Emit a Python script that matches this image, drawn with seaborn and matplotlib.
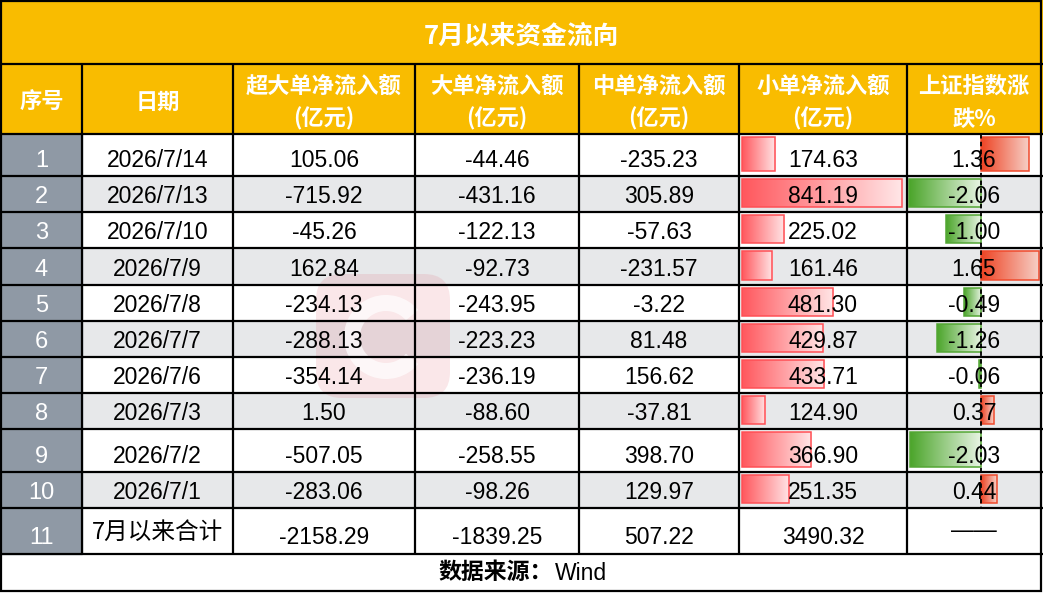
import numpy as np
import matplotlib
matplotlib.use('Agg')
import matplotlib.pyplot as plt
from matplotlib.patches import Rectangle, FancyBboxPatch, Wedge
from matplotlib.colors import to_rgba
import seaborn as sns

title = '7月以来资金流向'
head_top = ['序号', '日期', '超大单净流入额', '大单净流入额', '中单净流入额', '小单净流入额', '上证指数涨']
head_bot = ['', '', '(亿元)', '(亿元)', '(亿元)', '(亿元)', '跌%']
row_no = [str(i) for i in range(1, 12)]
dates = ['2026/7/14', '2026/7/13', '2026/7/10', '2026/7/9', '2026/7/8',
         '2026/7/7', '2026/7/6', '2026/7/3', '2026/7/2', '2026/7/1']
super_large = [105.06, -715.92, -45.26, 162.84, -234.13, -288.13, -354.14, 1.50, -507.05, -283.06]
large = [-44.46, -431.16, -122.13, -92.73, -243.95, -223.23, -236.19, -88.60, -258.55, -98.26]
medium = [-235.23, 305.89, -57.63, -231.57, -3.22, 81.48, 156.62, -37.81, 398.70, 129.97]
small = [174.63, 841.19, 225.02, 161.46, 481.30, 429.87, 433.71, 124.90, 366.90, 251.35]
index_chg = [1.36, -2.06, -1.00, 1.65, -0.49, -1.26, -0.06, 0.37, -2.03, 0.44]
total_label = '7月以来合计'
totals = [-2158.29, -1839.25, 507.22, 3490.32]
total_chg = '——'
source = '数据来源：'
source_name = 'Wind'

# ---- style ----
sns.set_theme(style='white')
plt.rcParams['font.family'] = ['Liberation Sans', 'Noto Sans CJK SC', 'DejaVu Sans']
CJK = ['Noto Sans CJK SC', 'DejaVu Sans']

YELLOW = '#F9BC00'
SLATE = '#8F99A5'
STRIPE = '#E7E8EA'

W, H = 1043, 593
fig = plt.figure(figsize=(W / 100, H / 100), dpi=100)
ax = fig.add_axes([0, 0, 1, 1])

# layout (pixels)
col_x = [1, 82, 233, 415, 579, 739, 907, 1041]
title_y = (1, 64)
head_y = (64, 134)
row_y = [134, 176, 212, 248, 285, 321, 357, 393, 429, 472, 508, 554]
foot_y = (554, 591)
LW = 1.6

# backgrounds
ax.add_patch(Rectangle((0, 0), W, head_y[1], color=YELLOW, zorder=0))
for i in range(11):
    y0, y1 = row_y[i], row_y[i + 1]
    bg = STRIPE if i % 2 == 1 else 'white'
    ax.add_patch(Rectangle((col_x[1], y0), col_x[-1] - col_x[1], y1 - y0, color=bg, zorder=0))
    ax.add_patch(Rectangle((col_x[0], y0), col_x[1] - col_x[0], y1 - y0, color=SLATE, zorder=0))

# faint logo watermark
ax.add_patch(FancyBboxPatch((316, 274), 134, 124, boxstyle='round,pad=0,rounding_size=26',
                            color='#E06070', alpha=0.15, lw=0, zorder=1))
ax.add_patch(Wedge((386, 337), 42, 40, 320, width=16, color='white', alpha=0.7, lw=0, zorder=1))

# gradient filled bars
def fill_gradient(patch, c_from, c_to):
    x0, y0 = patch.get_x(), patch.get_y()
    x1, y1 = x0 + patch.get_width(), y0 + patch.get_height()
    a, b = np.array(to_rgba(c_from)), np.array(to_rgba(c_to))
    t = np.linspace(0, 1, 256)[None, :, None]
    grad = a + (b - a) * t
    im = ax.imshow(grad, extent=(x0, x1, y1, y0), aspect='auto', interpolation='bilinear', zorder=2)
    im.set_clip_path(patch)
    patch.set_facecolor('none')


bar_top = np.array(row_y[:10]) + 3
bar_h = np.diff(row_y[:11]) - 8
bar_c = bar_top + bar_h / 2

# small order column
s_left = col_x[5] + 2.5
s_scale = (col_x[6] - col_x[5] - 8) / max(small)
bars = ax.barh(bar_c, np.array(small) * s_scale, left=s_left, height=bar_h,
               edgecolor='#FF4F55', linewidth=1.1, zorder=3)
for p in bars.patches:
    fill_gradient(p, '#FF575D', '#FFE6E7')

# index change column
chg = np.array(index_chg)
inner = col_x[7] - col_x[6] - 4
c_scale = inner / (chg.max() - chg.min())
axis_x = col_x[6] + 2 + (-chg.min()) * c_scale
bars = ax.barh(bar_c, chg * c_scale, left=axis_x, height=bar_h, linewidth=1.1, zorder=3)
for p, v in zip(bars.patches, chg):
    if v >= 0:
        p.set_edgecolor('#F04A2C')
        fill_gradient(p, '#EE4323', '#F6CFC6')
    else:
        p.set_edgecolor('#53A634')
        fill_gradient(p, '#EAF5E6', '#4BA52A')
ax.plot([axis_x, axis_x], [row_y[0], row_y[10]], color='black', lw=1.3, ls=(0, (2.5, 1.8)), zorder=4)

# grid lines
for y in [title_y[1], head_y[1]] + row_y[1:]:
    ax.plot([0, W], [y, y], color='black', lw=LW, zorder=5, solid_capstyle='butt')
for x in col_x[1:-1]:
    ax.plot([x, x], [head_y[0], foot_y[0]], color='black', lw=LW, zorder=5, solid_capstyle='butt')
ax.add_patch(Rectangle((col_x[0], title_y[0]), col_x[-1] - col_x[0], foot_y[1] - title_y[0],
                       fill=False, edgecolor='black', lw=LW, zorder=5))

# texts
cx = [(col_x[i] + col_x[i + 1]) / 2 for i in range(7)]
ax.text(W / 2, 36, title, family=CJK, fontsize=18.5, fontweight='bold', color='white',
        ha='center', va='center', zorder=6)
for i in range(7):
    if head_bot[i]:
        ax.text(cx[i], 86, head_top[i], family=CJK, fontsize=16, fontweight='bold',
                color='white', ha='center', va='center', zorder=6)
        ax.text(cx[i], 119, head_bot[i], family=CJK, fontsize=16, fontweight='bold',
                color='white', ha='center', va='center', zorder=6)
    else:
        ax.text(cx[i], 102, head_top[i], family=CJK, fontsize=16, fontweight='bold',
                color='white', ha='center', va='center', zorder=6)

FS = 16.5
for i in range(10):
    yb = row_y[i + 1] - 9
    vals = [row_no[i], dates[i], f'{super_large[i]:.2f}', f'{large[i]:.2f}',
            f'{medium[i]:.2f}', f'{small[i]:.2f}', f'{index_chg[i]:.2f}']
    for j, s in enumerate(vals):
        ax.text(cx[j], yb, s, fontsize=FS + (0.5 if j == 0 else 0),
                color='white' if j == 0 else 'black',
                ha='center', va='baseline', zorder=6)

yb = row_y[11] - 10
ax.text(cx[0], yb, row_no[10], fontsize=FS + 0.5, color='white', ha='center', va='baseline', zorder=6)
ax.text(cx[1], (row_y[10] + row_y[11]) / 2 + 1, total_label, family=CJK, fontsize=17,
        fontweight='medium', color='black', ha='center', va='center', zorder=6)
for j, v in enumerate(totals):
    ax.text(cx[j + 2], yb, f'{v:.2f}', fontsize=FS, color='black', ha='center', va='baseline', zorder=6)
ax.text(cx[6], (row_y[10] + row_y[11]) / 2, total_chg, fontsize=FS, color='black',
        ha='center', va='center', zorder=6)

fy = (foot_y[0] + foot_y[1]) / 2
ax.text(553, fy, source, family=CJK, fontsize=16.5, fontweight='bold', color='black',
        ha='right', va='center', zorder=6)
ax.text(555, fy + 1, source_name, fontsize=FS, color='black', ha='left', va='center', zorder=6)

ax.set_xlim(0, W)
ax.set_ylim(H, 0)
ax.axis('off')
fig.savefig('out.png', dpi=100, facecolor='white')
